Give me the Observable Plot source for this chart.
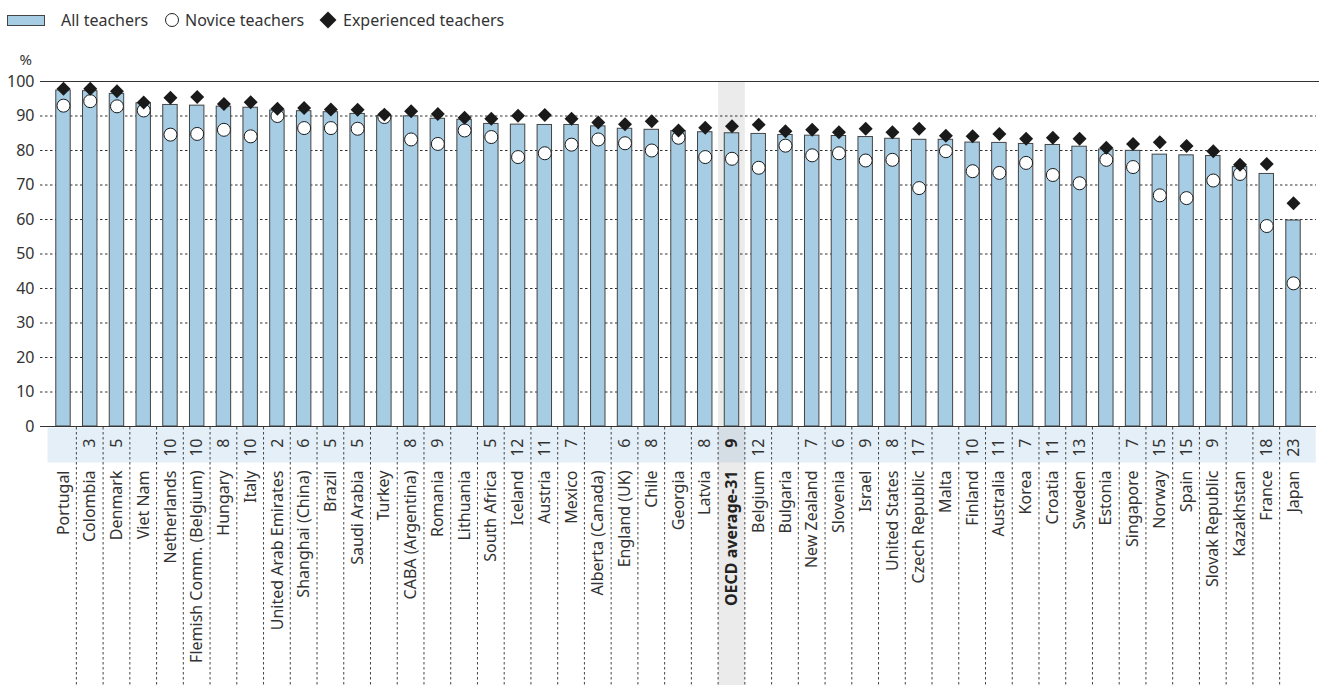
<!DOCTYPE html>
<html>
<head>
<meta charset="utf-8">
<script src="https://cdn.jsdelivr.net/npm/d3@7"></script>
<script src="https://cdn.jsdelivr.net/npm/@observablehq/plot@0.6"></script>
<style>
  html, body { margin: 0; padding: 0; background: #fff; }
  body { width: 1319px; height: 685px; overflow: hidden; font-family: "Noto Sans", sans-serif; color: #333; }
  #legend { position: relative; height: 40px; width: 1319px; font-size: 16px; }
  #legend .t { position: absolute; top: 9px; line-height: 22px; white-space: nowrap; }
  #legend .sw { position: absolute; left: 7px; top: 15px; width: 36px; height: 9px; background: #a6cde4; border: 1px solid #444; }
  #legend .ci { position: absolute; left: 165px; top: 13px; width: 12px; height: 12px; border: 1px solid #222; border-radius: 50%; background: #fff; }
  #legend .di { position: absolute; left: 322px; top: 14px; width: 12px; height: 12px; background: #1a1a1a; transform: rotate(45deg); }
</style>
</head>
<body>
<div id="legend">
  <div class="sw"></div><div class="t" style="left:61px">All teachers</div>
  <div class="ci"></div><div class="t" style="left:185px">Novice teachers</div>
  <div class="di"></div><div class="t" style="left:343px">Experienced teachers</div>
</div>
<div id="chart"></div>
<script>
const categories = ["Portugal","Colombia","Denmark","Viet Nam","Netherlands","Flemish Comm. (Belgium)","Hungary","Italy","United Arab Emirates","Shanghai (China)","Brazil","Saudi Arabia","Turkey","CABA (Argentina)","Romania","Lithuania","South Africa","Iceland","Austria","Mexico","Alberta (Canada)","England (UK)","Chile","Georgia","Latvia","OECD average-31","Belgium","Bulgaria","New Zealand","Slovenia","Israel","United States","Czech Republic","Malta","Finland","Australia","Korea","Croatia","Sweden","Estonia","Singapore","Norway","Spain","Slovak Republic","Kazakhstan","France","Japan"];
const allTeachers = [97.4,97.2,96.4,93.7,93.2,93.0,92.7,92.4,91.6,91.4,91.1,90.6,90.0,89.9,89.2,88.9,87.7,87.5,87.4,87.4,87.0,86.3,86.0,85.6,85.3,85.0,84.8,84.5,84.3,84.2,83.9,83.4,83.1,83.1,82.3,82.2,81.9,81.6,81.1,80.3,79.9,78.8,78.6,78.4,75.2,73.2,59.7];
const noviceTeachers = [93.0,94.3,92.8,91.6,84.6,84.8,86.0,84.1,90.0,86.5,86.5,86.3,89.7,83.2,81.9,85.8,83.9,78.1,79.2,81.7,83.2,82.1,80.0,83.7,78.1,77.6,75.0,81.4,78.6,79.2,77.1,77.3,69.1,79.8,74.0,73.5,76.4,72.9,70.5,77.3,75.2,67.0,66.2,71.3,73.2,58.1,41.5];
const experiencedTeachers = [97.9,97.9,97.2,93.9,95.3,95.5,93.5,94.0,92.1,92.3,91.9,91.8,90.4,91.4,90.6,89.5,89.2,90.1,90.3,89.2,88.1,87.6,88.5,85.8,86.6,87.0,87.5,85.6,86.0,85.3,86.3,85.3,86.3,84.3,84.1,84.8,83.4,83.7,83.4,80.8,81.9,82.4,81.3,79.8,75.9,76.1,64.7];
const noviceShare = [null,3,5,null,10,10,8,10,2,6,5,5,null,8,9,null,5,12,11,7,null,6,8,null,8,9,12,null,7,6,9,8,17,null,10,11,7,11,13,null,7,15,15,9,null,18,23];
const yTicks = [0,10,20,30,40,50,60,70,80,90,100];
const highlight = "OECD average-31";

const rows = categories.map((c, i) => ({name: c, all: allTeachers[i], novice: noviceTeachers[i], exp: experiencedTeachers[i], n: noviceShare[i]}));

const W = 1319, H = 645;
const chart = Plot.plot({
  width: W, height: H,
  marginLeft: 40, marginRight: 3, marginTop: 41, marginBottom: 259,
  style: {fontFamily: "Noto Sans, sans-serif", fontSize: "16px", color: "#333", background: "transparent", overflow: "visible"},
  x: {type: "band", domain: categories, paddingInner: 0.46, paddingOuter: 0.59, axis: null},
  y: {domain: [0, 100], axis: null},
  marks: [
    Plot.ruleY(yTicks.filter(t => t > 0 && t < 100), {stroke: "#333", strokeWidth: 1, strokeDasharray: "2.5,2.5"}),
    Plot.ruleY([100], {stroke: "#333", strokeWidth: 1.2, insetRight: -3}),
    Plot.barY(rows, {x: "name", y: "all", fill: "#a6cde4", stroke: "#444", strokeWidth: 1}),
    Plot.ruleY([0], {stroke: "#333", strokeWidth: 1.2}),
    Plot.axisY({ticks: yTicks, tickSize: 0, tickPadding: 6, fontSize: 16, label: null, fill: "#333"}),
    Plot.text(["%"], {frameAnchor: "top-left", dx: -21, dy: -27, fontSize: 15, fill: "#333"}),
    Plot.dot(rows, {x: "name", y: "novice", r: 6.5, fill: "white", stroke: "#1a1a1a", strokeWidth: 1}),
    Plot.dot(rows, {x: "name", y: "exp", symbol: "diamond2", r: 6.3, fill: "#1a1a1a", stroke: "none"}),
    Plot.text(rows.filter(d => d.name !== highlight && d.n != null), {x: "name", text: d => String(d.n), frameAnchor: "bottom", dy: 12, rotate: -90, textAnchor: "end", lineAnchor: "middle", fontSize: 16, fill: "#333"}),
    Plot.text(rows.filter(d => d.name === highlight), {x: "name", text: d => String(d.n), frameAnchor: "bottom", dy: 12, rotate: -90, textAnchor: "end", lineAnchor: "middle", fontSize: 16, fontWeight: "bold", fill: "#222"}),
    Plot.text(categories.filter(c => c !== highlight), {x: d => d, text: d => d, frameAnchor: "bottom", dy: 44, rotate: -90, textAnchor: "end", lineAnchor: "middle", fontSize: 16, fill: "#333"}),
    Plot.text([highlight], {x: d => d, text: d => d, frameAnchor: "bottom", dy: 44, rotate: -90, textAnchor: "end", lineAnchor: "middle", fontSize: 16, fontWeight: "bold", fill: "#222"})
  ]
});
document.getElementById("chart").appendChild(chart);

// Background decorations positioned with the plot's own scales
const xs = chart.scale("x"), ys = chart.scale("y");
const bw = xs.bandwidth;
const step = xs.step ?? (xs.apply(categories[1]) - xs.apply(categories[0]));
const cx = c => xs.apply(c) + bw / 2;
const y0 = ys.apply(0), y100 = ys.apply(100);
const svg = d3.select(chart);
const g = svg.insert("g", ":first-child");
const bandLeft = cx(categories[0]) - step * 0.58;
const bandRight = cx(categories[categories.length - 1]) + step * 0.85;
g.append("rect").attr("x", bandLeft).attr("y", y0 + 1.5).attr("width", bandRight - bandLeft).attr("height", 35).attr("fill", "#e4eff7");
const hx = cx(highlight) - step / 2;
g.append("rect").attr("x", hx).attr("y", y100 + 1).attr("width", step).attr("height", H - y100).attr("fill", "#ebebeb");
g.append("rect").attr("x", hx).attr("y", y0 + 1.5).attr("width", step).attr("height", 35).attr("fill", "#d5dee5");
categories.slice(1).forEach(c => {
  const x = cx(c) - step / 2;
  g.append("line").attr("x1", x).attr("x2", x).attr("y1", y0 + 1).attr("y2", H).attr("stroke", "#444").attr("stroke-width", 1).attr("stroke-dasharray", "2.5,2.5");
});
</script>
</body>
</html>
